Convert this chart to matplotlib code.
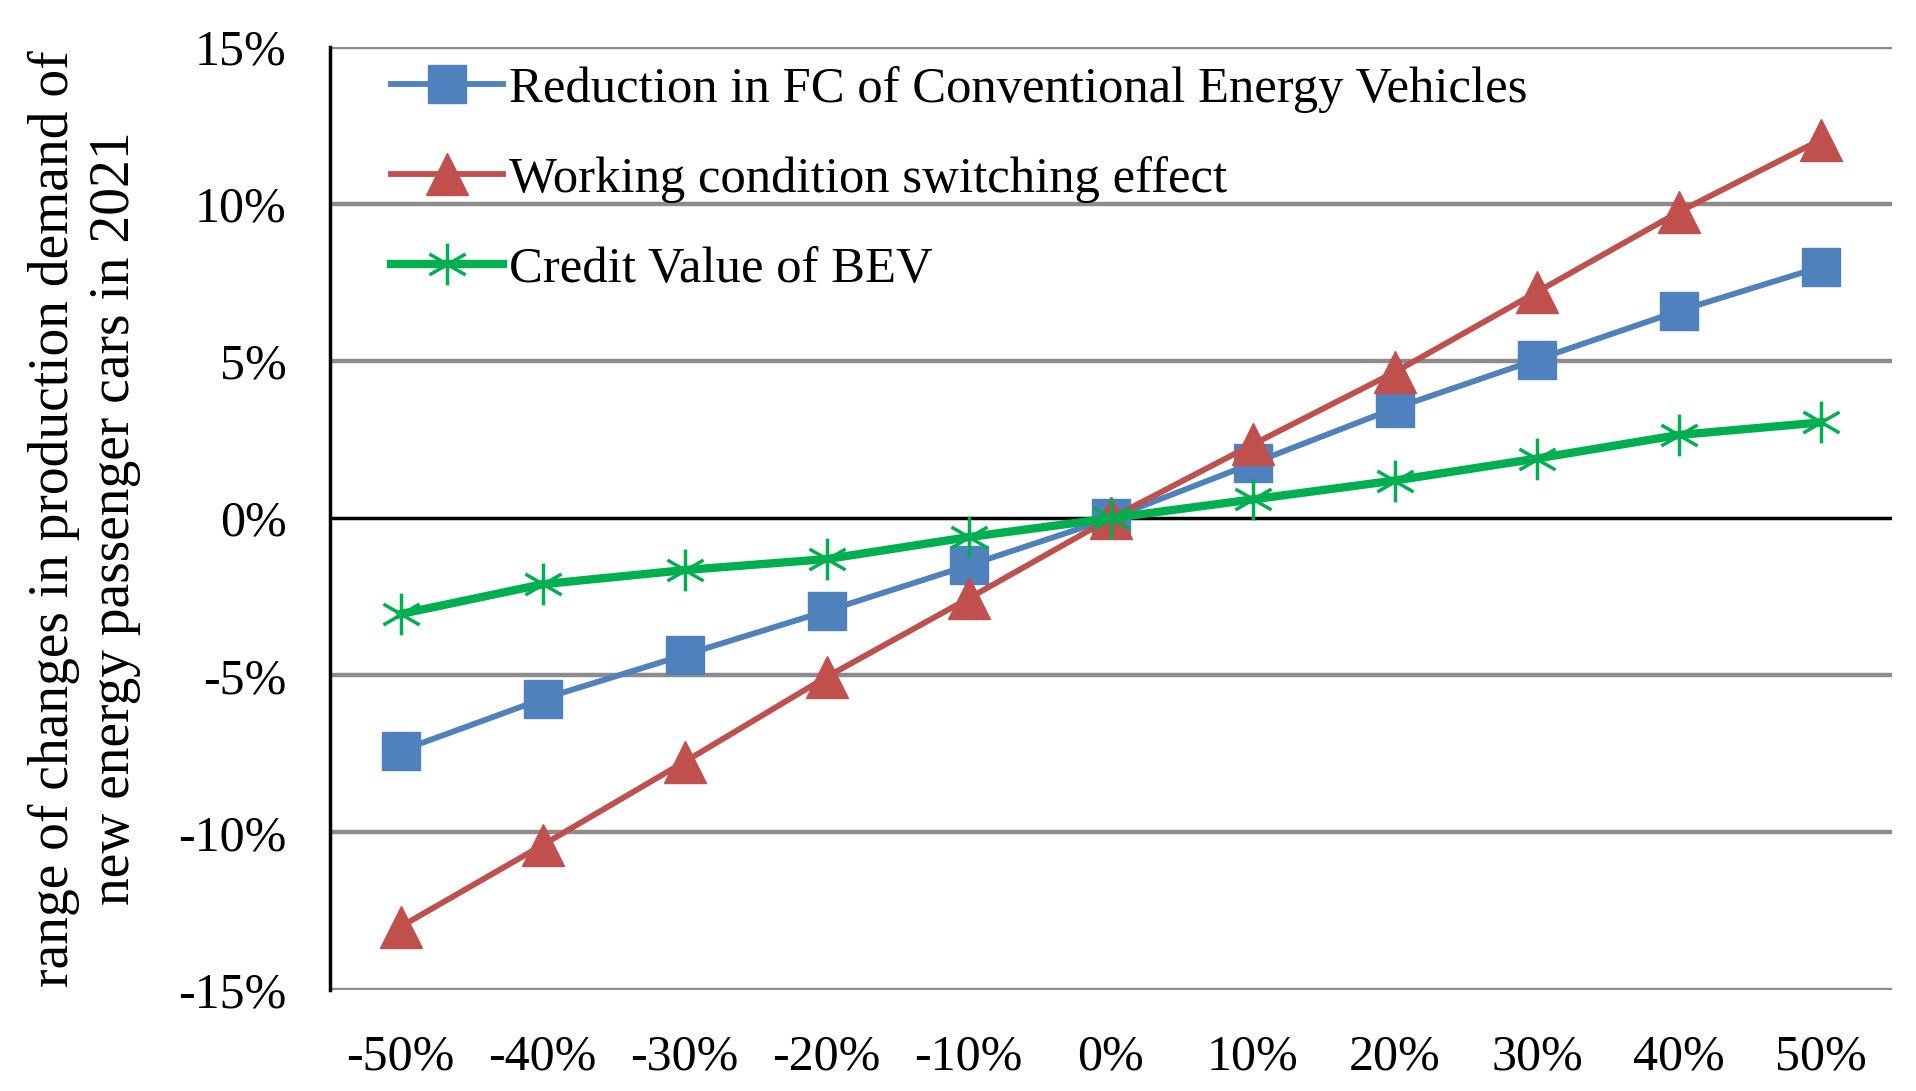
import matplotlib
matplotlib.use("Agg")
import matplotlib.pyplot as plt
from matplotlib.path import Path
import numpy as np

categories = ["-50%", "-40%", "-30%", "-20%", "-10%", "0%", "10%", "20%", "30%", "40%", "50%"]
fc_reduction = [-7.4, -5.75, -4.35, -2.95, -1.5, 0.0, 1.75, 3.5, 5.05, 6.6, 8.0]
switching = [-13.0, -10.4, -7.75, -5.05, -2.55, 0.0, 2.35, 4.65, 7.2, 9.75, 12.05]
credit_bev = [-3.05, -2.1, -1.65, -1.3, -0.6, 0.0, 0.6, 1.2, 1.9, 2.65, 3.05]
yticks = [-15, -10, -5, 0, 5, 10, 15]
series_names = ["Reduction in FC of Conventional Energy Vehicles",
                "Working condition switching effect",
                "Credit Value of BEV"]

plt.rcParams['font.family'] = ['Liberation Serif', 'DejaVu Serif']

fig = plt.figure(figsize=(19.16, 10.91), dpi=100)
ax = fig.add_axes([0.172, 0.093, 0.8155, 0.864])

x = np.arange(len(categories))

# asterisk marker: vertical line plus two diagonals
s = 0.5
d = 0.5 * np.cos(np.pi / 6)
verts = [(0, -s), (0, s), (-d, -0.25), (d, 0.25), (-d, 0.25), (d, -0.25)]
codes = [Path.MOVETO, Path.LINETO] * 3
star = Path(verts, codes)

for yv in yticks:
    if yv == 0:
        continue
    ax.axhline(yv, color='#8c8c8c', lw=3.2, zorder=1)
ax.axhline(0, color='black', lw=2.5, zorder=2)

ax.plot(x, fc_reduction, color='#4F81BD', lw=4.2, marker='s', ms=27,
        mfc='#4F81BD', mec='#4F81BD', label=series_names[0], zorder=4)
ax.plot(x, switching, color='#C0504D', lw=4.2, marker='^', ms=30,
        mfc='#C0504D', mec='#C0504D', label=series_names[1], zorder=5)
ax.plot(x, credit_bev, color='#00B050', lw=6, marker=star, ms=30,
        mfc='none', mec='#00B050', mew=2.5, label=series_names[2], zorder=6)

ax.set_xlim(-0.5, len(categories) - 0.5)
ax.set_ylim(-15, 15)
ax.set_xticks(x)
ax.set_xticklabels(categories)
ax.set_yticks(yticks)
ax.set_yticklabels([f"{v}%" for v in yticks])
ax.tick_params(axis='both', length=0, labelsize=36)
ax.tick_params(axis='x', pad=32)
ax.tick_params(axis='y', pad=31)

for side in ['top', 'right', 'bottom']:
    ax.spines[side].set_visible(False)
ax.spines['left'].set_color('black')
ax.spines['left'].set_linewidth(2.5)

ax.set_ylabel("range of changes in production demand of\nnew energy passenger cars in 2021",
              fontsize=40, linespacing=1.22, labelpad=27)

leg = ax.legend(loc='upper left', frameon=False, fontsize=36.5, handlelength=2.2,
                handletextpad=0.12, labelspacing=0.85, borderaxespad=0.2,
                bbox_to_anchor=(0.02, 1.012))

fig.savefig("out.png", dpi=100, facecolor='white')
